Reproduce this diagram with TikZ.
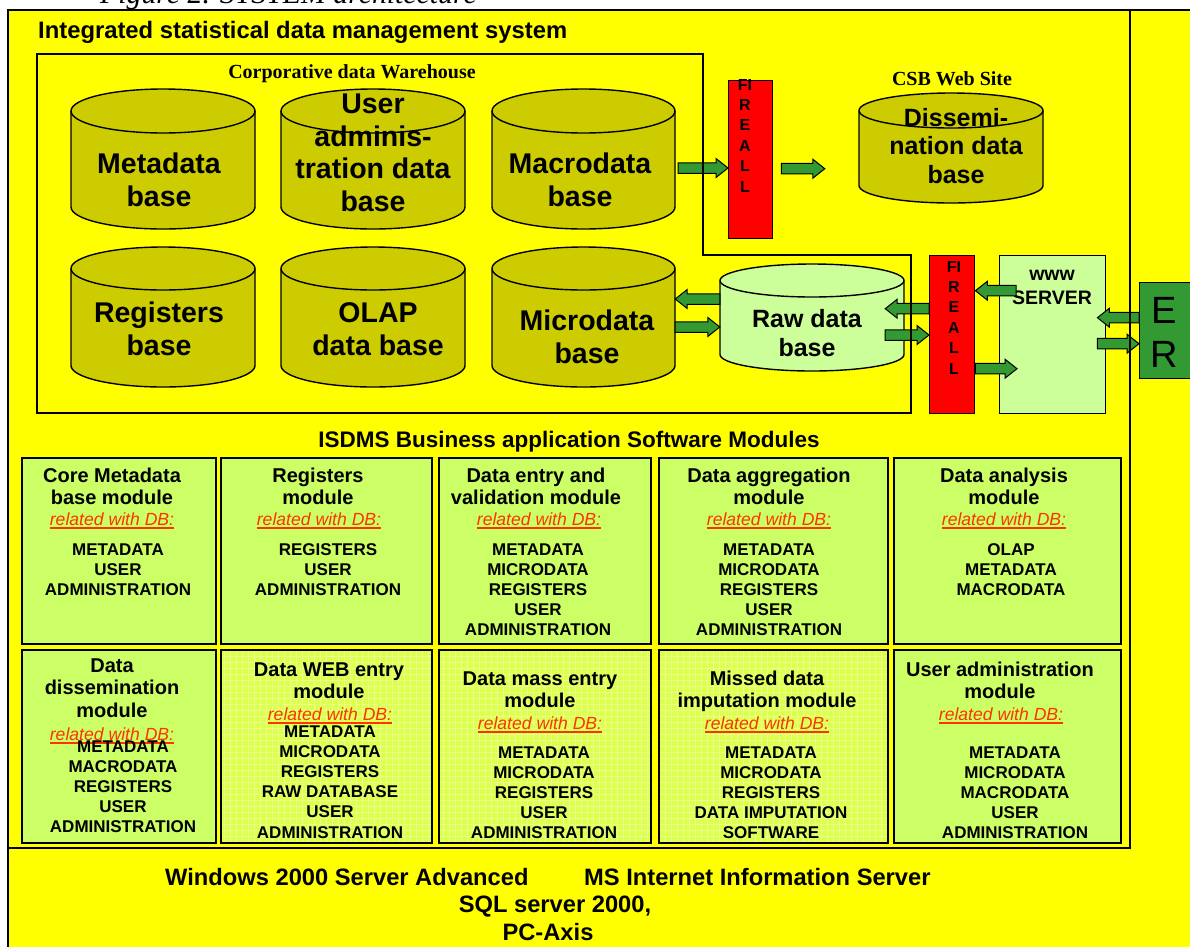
\documentclass[tikz,border=0pt]{standalone}
\usepackage{fontspec}
\setmainfont{Liberation Sans}
\newfontfamily\timesfont{Liberation Serif}
\usetikzlibrary{calc}

\definecolor{sysyellow}{HTML}{FFFF00}
\definecolor{dbolive}{HTML}{CCCC00}
\definecolor{paleleaf}{HTML}{CCFF99}
\definecolor{modgreen}{HTML}{CCFF66}
\definecolor{modlime}{HTML}{DDFF4D}
\definecolor{gridlime}{HTML}{E8FF88}
\definecolor{arrowgreen}{HTML}{339933}
\definecolor{fwred}{HTML}{FF0000}
\definecolor{relred}{HTML}{FF3300}

% underlined "related with DB:" caption used in every module box
\newsavebox\relbox
\newcommand\relwith{\sbox\relbox{related with DB:}\rlap{\rule[-4pt]{\wd\relbox}{1.8pt}}\usebox\relbox}

% database cylinder: name, left, right, top, bottom, ellipse half-height, fill
\newcommand\dbcyl[7]{%
  \pgfmathsetmacro\cylcx{(#2+#3)/2}%
  \pgfmathsetmacro\cylrx{(#3-#2)/2}%
  \pgfmathsetmacro\cylyu{-(#4+#6)}%
  \pgfmathsetmacro\cylyl{-(#5-#6)}%
  \pgfmathsetmacro\cylym{-(#4+#5)/2}%
  \pgfmathsetmacro\cylhh{#5-#4}%
  \draw[dbline,fill=#7] (#2,\cylyu) -- (#2,\cylyl)
     arc[start angle=180,end angle=360,x radius=\cylrx pt,y radius=#6 pt]
     -- (#3,\cylyu)
     arc[start angle=0,end angle=180,x radius=\cylrx pt,y radius=#6 pt] -- cycle;
  \draw[dbline] (#2,\cylyu) arc[start angle=180,end angle=360,x radius=\cylrx pt,y radius=#6 pt];
  \node[inner sep=0pt,minimum width=2*\cylrx pt,minimum height=\cylhh pt] (#1) at (\cylcx,\cylym) {};
}

% horizontal block arrow from one point to another
\newcommand\blockarrow[2]{%
  \draw[barrow] let \p1=#1, \p2=#2, \n1={12*sign(\x2-\x1)} in
    (\x1,\y1+5.25) -- (\x2-\n1,\y1+5.25) -- (\x2-\n1,\y1+9.5) -- (\x2,\y1)
    -- (\x2-\n1,\y1-9.5) -- (\x2-\n1,\y1-5.25) -- (\x1,\y1-5.25) -- cycle;}

% multi-line labels are placed by the baseline of their last line
\tikzset{
  frame/.style={draw=black, line width=1.6pt},
  dbline/.style={draw=black, line width=1.4pt},
  barrow/.style={draw=black, line width=1pt, fill=arrowgreen},
  plainbox/.style={draw=black, line width=1.4pt, inner sep=0pt, anchor=north west},
  fwbox/.style={plainbox, fill=fwred},
  srvbox/.style={plainbox, fill=paleleaf},
  erbox/.style={plainbox, fill=arrowgreen},
  modbox/.style={draw=black, line width=1.6pt, fill=modgreen, inner sep=0pt, anchor=north west},
  limebox/.style={modbox, fill=modlime,
    path picture={\draw[gridlime, line width=0.4pt] (path picture bounding box.south west)
      grid[step=6pt] (path picture bounding box.north east);}},
  txt/.style={inner sep=0pt, anchor=base, align=center},
  captext/.style={txt, anchor=base west, font=\timesfont\itshape\fontsize{29.8}{32}\selectfont},
  systitle/.style={txt, anchor=base west, font=\bfseries\fontsize{23.8}{27}\selectfont},
  whtitle/.style={txt, font=\timesfont\bfseries\fontsize{20}{23}\selectfont},
  dbtext/.style={txt, font=\bfseries\fontsize{28.5}{32.5}\selectfont},
  smalldb/.style={txt, font=\bfseries\fontsize{25}{28.5}\selectfont},
  fwtext/.style={txt, font=\bfseries\fontsize{16}{20.4}\selectfont},
  srvtext/.style={txt, font=\bfseries\fontsize{19.5}{24}\selectfont},
  ertext/.style={txt, font=\fontsize{38}{44}\selectfont},
  isdms/.style={txt, font=\bfseries\fontsize{22.5}{26}\selectfont},
  modtitle/.style={txt, font=\bfseries\fontsize{20}{22.5}\selectfont},
  modrel/.style={txt, text=relred, font=\itshape\fontsize{17.6}{20}\selectfont},
  modlist/.style={txt, font=\bfseries\fontsize{17}{20.2}\selectfont},
  basetext/.style={txt, font=\bfseries\fontsize{23.7}{27.5}\selectfont},
}

\begin{document}
\begin{tikzpicture}[x=1pt,y=1pt]
\useasboundingbox (0,0) rectangle (1190,-946);
\begin{scope}
\clip (0,0) rectangle (1190,-946);
\fill[white] (0,0) rectangle (1190,-946);
\node[captext] (caption) at (100,-3.5) {Figure 2. SYSTEM architecture};

% platform area and system area
\draw[frame, fill=sysyellow] (8,-10) rectangle (1210,-970);
\node[systitle] (systxt) at (38,-38) {Integrated statistical data management system};
\node[whtitle] (whtxt) at (352,-78) {Corporative data Warehouse};
\node[whtitle] (csbtxt) at (952,-85) {CSB Web Site};

% warehouse databases
\dbcyl{meta}{71}{255}{89}{229}{22}{dbolive}
\dbcyl{usr}{281}{465}{89}{229}{22}{dbolive}
\dbcyl{mac}{492}{675}{89}{229}{22}{dbolive}
\dbcyl{reg}{71}{255}{247}{387}{21.5}{dbolive}
\dbcyl{olap}{281}{465}{247}{387}{21.5}{dbolive}
\dbcyl{mic}{492}{675}{247}{387}{21.5}{dbolive}
\dbcyl{dis}{859}{1043}{93}{203}{17.5}{dbolive}
\dbcyl{raw}{720}{904}{264}{371}{16.5}{paleleaf}

\node[dbtext] (metatxt) at (159,-206) {Metadata\\base};
\node[dbtext] (usrtxt) at (373,-211) {User\\adminis-\\tration data\\base};
\node[dbtext] (mactxt) at (580,-206) {Macrodata\\base};
\node[dbtext] (regtxt) at (159,-355) {Registers\\base};
\node[dbtext] (olaptxt) at (378,-355) {OLAP\\data base};
\node[dbtext] (mictxt) at (587,-363) {Microdata\\base};
\node[smalldb] (distxt) at (956,-183) {Dissemi-\\nation data\\base};
\node[smalldb] (rawtxt) at (807,-356) {Raw data\\base};

% firewalls, web server, external users
\node[fwbox, minimum width=44pt, minimum height=158pt] (fw1) at (728,-80) {};
\node[fwtext] (fw1txt) at (745,-192) {FI\\R\\E\\A\\L\\L};
\node[fwbox, minimum width=45pt, minimum height=158pt] (fw2) at (929,-255) {};
\node[fwtext] (fw2txt) at (954,-374) {FI\\R\\E\\A\\L\\L};
\node[srvbox, minimum width=106pt, minimum height=158pt] (www) at (999,-255) {};
\node[srvtext] (wwwtxt) at (1052,-304) {www\\SERVER};
\node[erbox, minimum width=70pt, minimum height=96pt] (er) at (1139,-282) {};
\node[ertext] (ertxt) at (1164,-367) {E\\R};

% data flows
\blockarrow{([xshift=3pt,yshift=-9pt]mac.east)}{([yshift=-9pt]fw1.west)}
\blockarrow{([xshift=8pt,yshift=-9pt]fw1.east)}{([xshift=-34pt,yshift=-20pt]dis.west)}
\blockarrow{([yshift=18.5pt]raw.west)}{([yshift=18pt]mic.east)}
\blockarrow{([yshift=-10pt]mic.east)}{([yshift=-9.5pt]raw.west)}
\blockarrow{([yshift=26pt]fw2.west)}{([xshift=-19pt,yshift=9.5pt]raw.east)}
\blockarrow{([xshift=-19pt,yshift=-17.5pt]raw.east)}{([yshift=-1pt]fw2.west)}
\blockarrow{([xshift=17pt,yshift=44pt]www.west)}{([yshift=44pt]fw2.east)}
\blockarrow{([yshift=-34pt]fw2.east)}{([xshift=18pt,yshift=-34pt]www.west)}
\blockarrow{([yshift=13pt]er.west)}{([xshift=-9pt,yshift=17pt]www.east)}
\blockarrow{([xshift=-9pt,yshift=-9pt]www.east)}{([yshift=-13pt]er.west)}

% warehouse outline and system boundary
\draw[frame] (37,-54) -- (703,-54) -- (703,-255) -- (911,-255) -- (911,-413) -- (37,-413) -- cycle;
\draw[frame] (8,-848) -- (1130,-848) -- (1130,-10);

% business application modules
\node[isdms] (isdmstxt) at (569,-447) {ISDMS Business application Software Modules};

\node[modbox, minimum width=194pt, minimum height=186pt] (m1) at (21,-457) {};
\node[modbox, minimum width=211pt, minimum height=186pt] (m2) at (220,-457) {};
\node[modbox, minimum width=212pt, minimum height=186pt] (m3) at (438,-457) {};
\node[modbox, minimum width=229pt, minimum height=186pt] (m4) at (658,-457) {};
\node[modbox, minimum width=227pt, minimum height=186pt] (m5) at (893,-457) {};
\node[modbox, minimum width=194pt, minimum height=193pt] (m6) at (21,-649) {};
\node[limebox, minimum width=211pt, minimum height=193pt] (m7) at (220,-649) {};
\node[limebox, minimum width=212pt, minimum height=193pt] (m8) at (438,-649) {};
\node[limebox, minimum width=229pt, minimum height=193pt] (m9) at (658,-649) {};
\node[modbox, minimum width=227pt, minimum height=193pt] (m10) at (893,-649) {};

\node[modtitle] (m1t) at (112,-504.5) {Core Metadata\\base module};
\node[modrel] (m1r) at (112,-525) {\relwith};
\node[modlist] (m1l) at (118,-595.4) {METADATA\\USER\\ADMINISTRATION};

\node[modtitle] (m2t) at (318,-504.5) {Registers\\module};
\node[modrel] (m2r) at (319,-525) {\relwith};
\node[modlist] (m2l) at (328,-595.4) {REGISTERS\\USER\\ADMINISTRATION};

\node[modtitle] (m3t) at (536,-504.5) {Data entry and\\validation module};
\node[modrel] (m3r) at (539,-525) {\relwith};
\node[modlist] (m3l) at (538,-635.8) {METADATA\\MICRODATA\\REGISTERS\\USER\\ADMINISTRATION};

\node[modtitle] (m4t) at (769,-504.5) {Data aggregation\\module};
\node[modrel] (m4r) at (769,-525) {\relwith};
\node[modlist] (m4l) at (769,-635.8) {METADATA\\MICRODATA\\REGISTERS\\USER\\ADMINISTRATION};

\node[modtitle] (m5t) at (1004,-504.5) {Data analysis\\module};
\node[modrel] (m5r) at (1004,-525) {\relwith};
\node[modlist] (m5l) at (1011,-595.4) {OLAP\\METADATA\\MACRODATA};

\node[modtitle] (m6t) at (112,-717) {Data\\dissemination\\module};
\node[modrel] (m6r) at (112,-740) {\relwith};
\node[modlist] (m6l) at (123,-832.8) {METADATA\\MACRODATA\\REGISTERS\\USER\\ADMINISTRATION};

\node[modtitle] (m7t) at (329,-698.5) {Data WEB entry\\module};
\node[modrel] (m7r) at (330,-720) {\relwith};
\node[modlist] (m7l) at (330,-838) {METADATA\\MICRODATA\\REGISTERS\\RAW DATABASE\\USER\\ADMINISTRATION};

\node[modtitle] (m8t) at (540,-707.5) {Data mass entry\\module};
\node[modrel] (m8r) at (540,-729) {\relwith};
\node[modlist] (m8l) at (544,-838.8) {METADATA\\MICRODATA\\REGISTERS\\USER\\ADMINISTRATION};

\node[modtitle] (m9t) at (767,-707.5) {Missed data\\imputation module};
\node[modrel] (m9r) at (767,-729) {\relwith};
\node[modlist] (m9l) at (771,-838.8) {METADATA\\MICRODATA\\REGISTERS\\DATA IMPUTATION\\SOFTWARE};

\node[modtitle] (m10t) at (1000,-698.5) {User administration\\module};
\node[modrel] (m10r) at (1001,-720) {\relwith};
\node[modlist] (m10l) at (1015,-838.8) {METADATA\\MICRODATA\\MACRODATA\\USER\\ADMINISTRATION};

% platform software
\node[basetext, anchor=base west] (os) at (165,-885) {Windows 2000 Server Advanced};
\node[basetext, anchor=base west] (iis) at (584,-885) {MS Internet Information Server};
\node[basetext] (sql) at (555,-912) {SQL server 2000,};
\node[basetext] (pcax) at (548,-940) {PC-Axis};
\end{scope}
\end{tikzpicture}
\end{document}
